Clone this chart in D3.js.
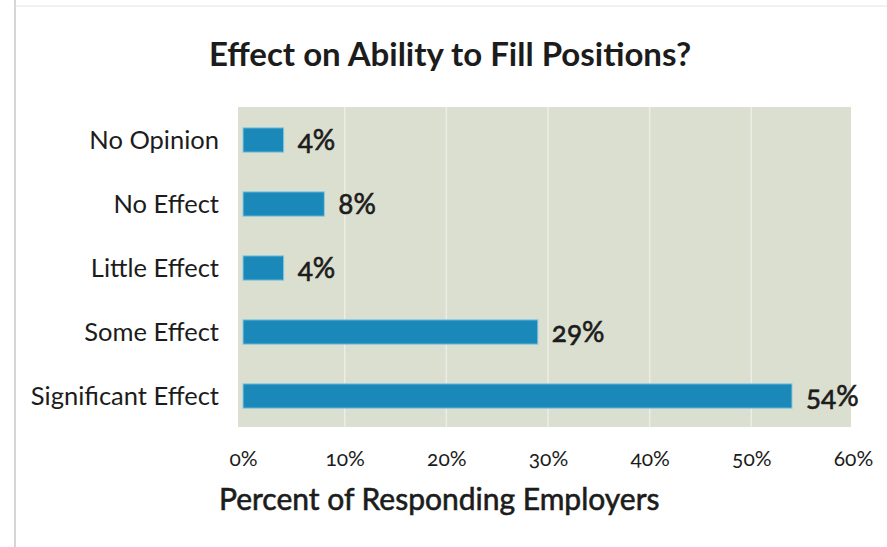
<!DOCTYPE html>
<html>
<head>
<meta charset="utf-8">
<script src="https://cdn.jsdelivr.net/npm/d3@7"></script>
<style>
  html, body { margin: 0; padding: 0; background: #ffffff; }
  svg { display: block; }
  text { font-family: Lato, "Open Sans", "Noto Sans", sans-serif; fill: #1c1c1c; }
  .num { font-variant-numeric: oldstyle-nums; }
  .heavy { stroke: #1c1c1c; stroke-width: 0.6px; }
</style>
</head>
<body>
<svg id="chart" width="887" height="547"></svg>
<script>
// Survey responses: effect on ability to fill positions
const categories = ["No Opinion", "No Effect", "Little Effect", "Some Effect", "Significant Effect"];
const percents = [4, 8, 4, 29, 54];
const tickValues = [0, 10, 20, 30, 40, 50, 60];
const chartTitle = "Effect on Ability to Fill Positions?";
const axisTitle = "Percent of Responding Employers";

const svg = d3.select("#chart");

const x = d3.scaleLinear().domain([0, 60]).range([243, 853]);
const y = d3.scaleBand().domain(categories).range([108, 428]).paddingInner(0.62).paddingOuter(0.31);

// page edge from the scanned page
svg.append("line").attr("x1", 15).attr("x2", 15).attr("y1", 0).attr("y2", 547)
  .attr("stroke", "#b9b9b9").attr("stroke-width", 1.2);
svg.append("line").attr("x1", 15).attr("x2", 887).attr("y1", 6).attr("y2", 6)
  .attr("stroke", "#e2e2e2").attr("stroke-width", 1);

// plot background
svg.append("rect")
  .attr("x", x(0) - 5).attr("y", 107)
  .attr("width", x(60) - x(0) + 3).attr("height", 320)
  .attr("fill", "#dbdfcf");

// vertical gridlines
svg.append("g").selectAll("line")
  .data(tickValues.slice(1, -1))
  .join("line")
  .attr("x1", d => x(d)).attr("x2", d => x(d))
  .attr("y1", 107).attr("y2", 427)
  .attr("stroke", "#eceee6").attr("stroke-width", 1.5);

// bars
svg.append("g").selectAll("rect")
  .data(categories)
  .join("rect")
  .attr("x", x(0))
  .attr("y", d => y(d))
  .attr("width", (d, i) => x(percents[i]) - x(0))
  .attr("height", y.bandwidth())
  .attr("fill", "#1a88b8")
  .attr("stroke", "#86c9e3").attr("stroke-width", 1);

// value labels
svg.append("g").selectAll("text")
  .data(categories)
  .join("text")
  .attr("class", "num heavy")
  .attr("x", (d, i) => x(percents[i]) + 14)
  .attr("y", d => y(d) + y.bandwidth() / 2 + 10)
  .attr("font-size", 28)
  .text((d, i) => percents[i] + "%");

// category labels
svg.append("g").selectAll("text")
  .data(categories)
  .join("text")
  .attr("x", 219)
  .attr("y", d => y(d) + y.bandwidth() / 2 + 9)
  .attr("text-anchor", "end")
  .attr("font-size", 25.5)
  .text(d => d);

// x axis tick labels
const xAxis = d3.axisBottom(x).tickValues(tickValues).tickFormat(d => d + "%").tickSize(0).tickPadding(0);
const gx = svg.append("g").attr("transform", "translate(0,451)").call(xAxis);
gx.select(".domain").remove();
gx.selectAll("text")
  .attr("class", "num")
  .attr("font-size", 21)
  .style("font-family", "Lato, 'Open Sans', sans-serif")
  .attr("fill", "#1c1c1c");

// titles
svg.append("text")
  .attr("x", 450).attr("y", 66)
  .attr("text-anchor", "middle")
  .attr("font-size", 33).attr("font-weight", 700)
  .text(chartTitle);

svg.append("text")
  .attr("class", "heavy")
  .attr("x", 219).attr("y", 510)
  .attr("font-size", 30)
  .text(axisTitle);
</script>
</body>
</html>
